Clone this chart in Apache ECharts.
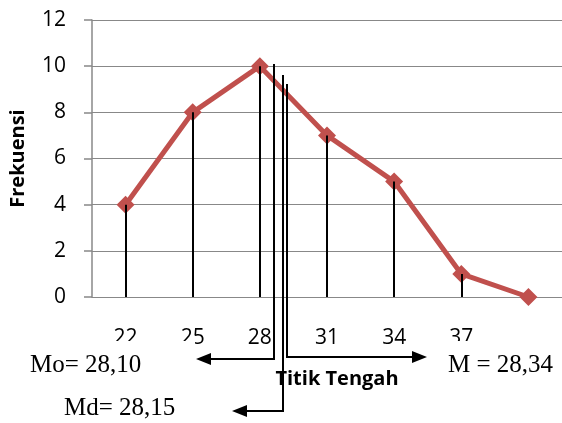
<!DOCTYPE html>
<html><head><meta charset="utf-8">
<script src="https://cdn.jsdelivr.net/npm/echarts@6/dist/echarts.min.js"></script>
<style>html,body{margin:0;padding:0;background:#fff}#c{width:562px;height:423px}</style>
</head><body><div id="c"></div>
<script>
var categories = ['22','25','28','31','34','37',''];
var frekuensi = [4, 8, 10, 7, 5, 1, 0];
var yTicks = [0, 2, 4, 6, 8, 10, 12];
var moText = 'Mo= 28,10', mdText = 'Md= 28,15', mText = 'M = 28,34';

var chart = echarts.init(document.getElementById('c'), null, {renderer:'canvas'});
var dropData = [];
for (var i = 0; i < frekuensi.length; i++) {
  if (frekuensi[i] > 0) dropData.push([{coord:[i, 0]}, {coord:[i, frekuensi[i]]}]);
}
function arrow(x0, y0, ytop, xh, dir) {
  var tip = xh, base = xh - dir * 15;
  return [
    {type:'polyline', z:120, shape:{points:[[x0, ytop],[x0, y0],[base, y0]]}, style:{stroke:'#000', lineWidth:2, fill:null}},
    {type:'polygon', z:120, shape:{points:[[tip, y0],[base, y0-6],[base, y0+6]]}, style:{fill:'#000'}}
  ];
}
var serif = '"Liberation Serif","Times New Roman",serif';
var sans = '"Open Sans","Liberation Sans",sans-serif';
var graphics = [
  {type:'rect', z:100, shape:{x:0, y:341, width:195, height:82}, style:{fill:'#fff'}},
  {type:'rect', z:100, shape:{x:445, y:341, width:117, height:82}, style:{fill:'#fff'}},
  {type:'text', z:110, x:30, y:378, style:{text:moText, font:'25px ' + serif, fill:'#000', textVerticalAlign:'bottom', verticalAlign:'bottom'}},
  {type:'text', z:110, x:64, y:421, style:{text:mdText, font:'25px ' + serif, fill:'#000', textVerticalAlign:'bottom', verticalAlign:'bottom'}},
  {type:'text', z:110, x:448, y:378, style:{text:mText, font:'25px ' + serif, fill:'#000', textVerticalAlign:'bottom', verticalAlign:'bottom'}},
  {type:'text', z:110, x:337, y:379, style:{text:'Titik Tengah', font:'bold 20px ' + sans, fill:'#000', textAlign:'center', textVerticalAlign:'middle', align:'center', verticalAlign:'middle'}}
];
graphics = graphics.concat(arrow(274, 359, 64, 196, -1));
graphics = graphics.concat(arrow(283, 411, 75, 232, -1));
graphics = graphics.concat(arrow(287, 357, 84, 427, 1));

chart.setOption({
  animation:false,
  grid:{left:92, right:0, top:20, bottom:126, containLabel:false, outerBoundsMode:'none'},
  xAxis:{type:'category', data:categories, boundaryGap:true,
    axisLine:{lineStyle:{color:'#888', width:1}},
    axisTick:{show:false},
    axisLabel:{margin:31, fontSize:21, color:'#000', fontFamily:sans, interval:0},
    splitLine:{show:false}},
  yAxis:{type:'value', min:yTicks[0], max:yTicks[yTicks.length-1], interval:2,
    name:'Frekuensi', nameLocation:'middle', nameGap:64, nameRotate:90,
    nameTextStyle:{fontSize:20, fontWeight:'bold', color:'#000', fontFamily:sans},
    axisLine:{show:true, lineStyle:{color:'#888', width:1.5}},
    axisTick:{show:true, inside:false, length:8, lineStyle:{color:'#888', width:1.5}},
    axisLabel:{margin:26, fontSize:21, color:'#000', fontFamily:sans},
    splitLine:{show:true, lineStyle:{color:'#888', width:1.2}}},
  series:[{
    type:'line', data:frekuensi, symbol:'diamond', symbolSize:18,
    lineStyle:{color:'#C0504D', width:5}, itemStyle:{color:'#C0504D'},
    markLine:{silent:true, symbol:['none','none'], label:{show:false},
      lineStyle:{color:'#000', width:2, type:'solid'}, z:5, data:dropData}
  }],
  graphic:graphics
});
</script></body></html>
